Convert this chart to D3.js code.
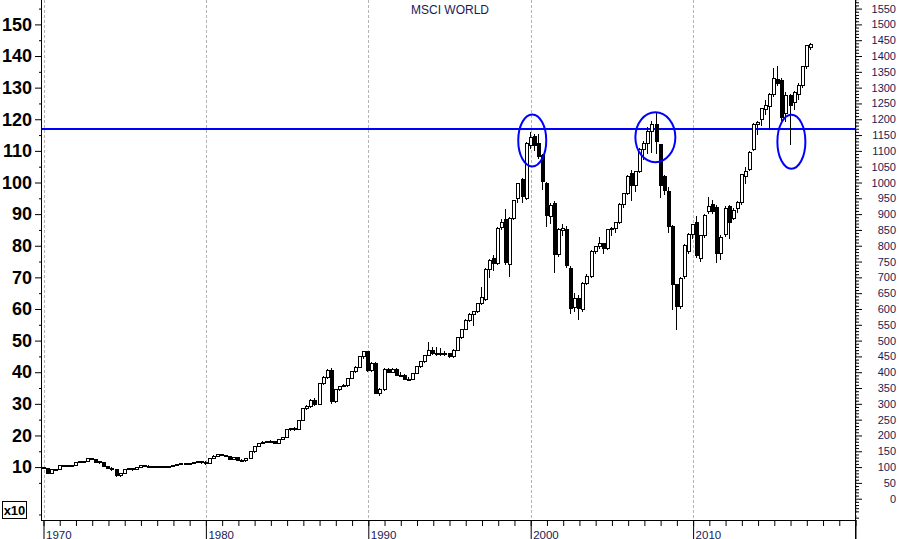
<!DOCTYPE html>
<html><head><meta charset="utf-8">
<script src="https://cdn.jsdelivr.net/npm/d3@7"></script>
<style>
body{margin:0;background:#fff;}
svg{display:block;font-family:Arial,"Liberation Sans",sans-serif;}
</style>
</head><body>
<svg id="chart" width="899" height="539"></svg>
<script>
// ---------- DATA ----------
const title = "MSCI WORLD";
const firstQuarter = "1970-01-01";   // quarterly candles start here
const open = [98,94,81,91,93,104,105,103,104,115,117,117,128,124,117,114,101,97,91,72,79,92,96,91,99,104,103,102,103,101,102,100,103,105,108,112,109,112,114,117,115,112,126,135,139,136,134,124,129,122,121,128,148,164,175,179,182,180,176,187,193,218,222,219,247,286,291,312,297,364,384,406,307,344,356,358,381,402,416,449,465,407,428,333,345,409,400,409,391,389,378,378,396,417,433,454,468,458,458,460,459,449,470,510,536,565,584,592,618,631,725,760,744,857,883,740,887,948,1010,950,1118,1145,1124,1084,997,892,934,771,847,850,728,605,634,597,681,702,781,797,806,792,850,855,873,931,966,1027,989,1034,1105,1124,1161,1182,1119,1020,971,860,676,609,702,781,834,873,760,831,908,932,921,776,834,924,887,918,936,1018,1042,1105,1184,1198,1232,1240,1277,1326,1324,1219,1275,1252,1277,1308,1366,1428];
const high = [100,96,92,95,105,107,106,106,116,119,119,129,130,126,120,116,103,99,93,82,93,98,97,100,105,106,105,104,104,103,103,104,106,109,113,113,113,115,118,118,120,127,137,142,141,139,136,131,130,125,129,149,165,176,181,183,186,182,189,195,219,224,226,248,287,296,314,318,366,388,410,412,346,358,364,383,404,420,452,468,468,432,431,350,412,414,413,412,400,393,384,398,419,436,456,495,480,480,478,466,462,472,512,538,567,586,595,620,668,730,757,772,858,885,915,890,946,1000,1015,1128,1161,1153,1152,1090,1002,935,940,856,870,862,735,650,645,685,710,785,800,828,810,853,860,876,934,968,1025,1040,1036,1108,1130,1175,1195,1219,1122,1025,985,865,680,700,805,840,870,894,835,900,955,945,930,835,925,930,920,940,1026,1050,1100,1188,1195,1236,1262,1282,1361,1368,1330,1285,1280,1290,1315,1370,1436,1440];
const low = [96,79,79,89,92,102,101,101,103,113,114,116,122,114,111,100,95,89,70,68,77,90,88,90,98,101,100,99,99,99,98,99,100,104,107,106,108,110,113,111,108,111,125,133,134,133,122,122,120,118,117,127,146,162,172,176,176,172,174,185,192,215,214,217,245,282,288,294,295,360,380,300,303,340,352,354,378,396,412,443,402,401,330,325,342,396,398,389,385,374,372,376,394,414,430,450,455,450,452,450,445,444,468,505,532,560,547,588,612,625,697,720,740,850,740,702,880,935,935,945,1105,1100,1075,976,860,870,713,765,830,730,585,590,565,590,675,698,775,790,773,788,830,840,868,920,962,940,970,1030,1070,1090,1092,1090,950,960,840,596,533,600,695,775,820,760,750,825,900,900,744,755,828,820,880,905,930,995,1035,1100,1150,1180,1215,1166,1270,1305,1195,1190,1119,1230,1260,1300,1360,1419];
const close = [97,81,91,93,104,105,103,104,115,117,117,128,125,116,113,101,97,91,72,79,92,96,91,99,104,103,102,103,101,102,100,103,105,108,112,109,112,114,117,115,112,126,135,139,136,134,124,129,122,121,128,148,164,175,179,182,180,176,187,193,218,222,219,247,286,291,312,297,364,384,406,307,344,356,358,381,402,416,449,465,407,428,333,345,409,400,409,391,389,378,378,396,417,433,454,468,458,458,460,459,449,470,510,536,565,584,592,618,637,725,752,744,855,873,746,887,943,997,955,1124,1143,1118,1082,1003,897,926,771,850,855,739,602,634,602,681,702,781,797,806,792,850,855,873,931,966,1020,989,1034,1105,1124,1161,1182,1129,992,976,860,676,607,697,802,834,866,770,831,897,924,908,776,827,918,873,913,936,1024,1034,1094,1184,1189,1234,1244,1277,1329,1314,1206,1275,1245,1284,1308,1366,1432,1437];

const leftTickLabels = [10,20,30,40,50,60,70,80,90,100,110,120,130,140,150]; // shown "x10"
const rightTickLabels = d3.range(0, 1551, 50);
const decadeLabels = [1970,1980,1990,2000,2010];
const resistanceLevel = 1170;
const circledDates = ["2000-02-05","2007-09-05","2016-01-20"];
const circledValues = [1133,1143,1129];
const circledRx = [14,20,14];
const circledRy = [26,25,27];

// ---------- CHART ----------
const svg = d3.select("#chart");
const W = 899, H = 539;
const plotLeft = 42, plotRight = 855, axisY = 520;

const x = d3.scaleTime()
  .domain([new Date(1970,0,1), new Date(2020,0,1)])
  .range([43.5, 855.5]);
const y = d3.scaleLinear().domain([0,1550]).range([498.7, 498.7 - 0.3162*1550]);

const start = d3.timeParse("%Y-%m-%d")(firstQuarter);
const quarters = open.map((_, i) => d3.timeMonth.offset(start, 3*i));
const candles = quarters.map((d,i) => ({date:d, o:open[i], h:high[i], l:low[i], c:close[i]}));

// gridlines (decades)
const gridYears = [1970,1980,1990,2000,2010,2020];
svg.append("g").selectAll("line").data(gridYears).join("line")
  .attr("x1", d => Math.round(x(new Date(d,0,1))) + 0.5)
  .attr("x2", d => Math.round(x(new Date(d,0,1))) + 0.5)
  .attr("y1", 0).attr("y2", axisY)
  .attr("stroke", "#b4b4b4").attr("stroke-dasharray", "3,2").attr("stroke-width", 1);

// title
svg.append("text").attr("x", 450).attr("y", 14).attr("text-anchor","middle")
  .attr("font-size", 12).attr("fill", "#1a1a55").text(title);

// resistance line
svg.append("line")
  .attr("x1", plotLeft).attr("x2", plotRight)
  .attr("y1", Math.round(y(resistanceLevel))).attr("y2", Math.round(y(resistanceLevel)))
  .attr("stroke", "#0000ff").attr("stroke-width", 2);

// candles
const cg = svg.append("g").attr("shape-rendering","crispEdges");
const cx = d => Math.round(x(d.date));
cg.selectAll("line.wick").data(candles).join("line").attr("class","wick")
  .attr("x1", d => cx(d) - 0.5).attr("x2", d => cx(d) - 0.5)
  .attr("y1", d => y(d.h)).attr("y2", d => y(d.l))
  .attr("stroke", "#000").attr("stroke-width", 1);
cg.selectAll("rect.body").data(candles).join("rect").attr("class","body")
  .attr("x", d => cx(d) - 1.5)
  .attr("width", 3)
  .attr("y", d => Math.min(y(d.o), y(d.c)))
  .attr("height", d => Math.max(1, Math.abs(y(d.o) - y(d.c))))
  .attr("fill", d => d.c >= d.o ? "#fff" : "#000")
  .attr("stroke", "#000").attr("stroke-width", 1);

// ellipses
svg.append("g").selectAll("ellipse").data(circledDates).join("ellipse")
  .attr("cx", (d,i) => x(d3.timeParse("%Y-%m-%d")(d)))
  .attr("cy", (d,i) => y(circledValues[i]))
  .attr("rx", (d,i) => circledRx[i]).attr("ry", (d,i) => circledRy[i])
  .attr("fill","none").attr("stroke","#0000ff").attr("stroke-width",2);

// left axis
const la = svg.append("g").attr("transform", `translate(${plotLeft},0)`);
la.call(d3.axisLeft(y).tickValues(leftTickLabels.map(v => v*10)).tickSize(7).tickPadding(3)
  .tickFormat(d => d/10));
la.select(".domain").remove();
la.selectAll(".tick line").attr("stroke","#000");
la.selectAll(".tick text").attr("font-size", 18).attr("font-weight","bold")
  .attr("fill","#000").attr("font-family","Arial, 'Liberation Sans', sans-serif");
const laMinor = svg.append("g").attr("transform", `translate(${plotLeft},0)`);
laMinor.call(d3.axisLeft(y).tickValues(d3.range(-50, 1551, 100)).tickSize(3).tickFormat(""));
laMinor.select(".domain").remove();
laMinor.selectAll(".tick line").attr("stroke","#000");
svg.append("line").attr("x1", plotLeft-0.5).attr("x2", plotLeft-0.5).attr("y1",0).attr("y2",axisY)
  .attr("stroke","#000");

// right axis
const ra = svg.append("g").attr("transform", `translate(${plotRight},0)`);
ra.call(d3.axisRight(y).tickValues(rightTickLabels).tickSize(7).tickPadding(0).tickFormat(d3.format("d")));
ra.select(".domain").remove();
ra.selectAll(".tick line").attr("stroke","#000");
ra.selectAll(".tick text").attr("x", 41).attr("text-anchor","end").attr("font-size", 11)
  .attr("fill","#1a1a55").attr("font-family","Arial, 'Liberation Sans', sans-serif");
const raMinor = svg.append("g").attr("transform", `translate(${plotRight},0)`);
raMinor.call(d3.axisRight(y).tickValues(d3.range(-60, 1581, 10).filter(v => v % 50 !== 0)).tickSize(4).tickFormat(""));
raMinor.select(".domain").remove();
raMinor.selectAll(".tick line").attr("stroke","#000");
svg.append("line").attr("x1", plotRight+0.5).attr("x2", plotRight+0.5).attr("y1",0).attr("y2",H)
  .attr("stroke","#000");

// bottom axis
svg.append("line").attr("x1", plotLeft-1).attr("x2", plotRight+1).attr("y1", axisY+0.5).attr("y2", axisY+0.5)
  .attr("stroke","#000");
const years = d3.timeYear.range(new Date(1970,0,1), new Date(2020,0,2));
const ba = svg.append("g").attr("transform", `translate(0,${axisY})`);
ba.call(d3.axisBottom(x).tickValues(years).tickSize(6).tickFormat(""));
ba.select(".domain").remove();
ba.selectAll(".tick line").attr("stroke","#000");
const baMajor = svg.append("g").attr("transform", `translate(0,${axisY})`);
baMajor.call(d3.axisBottom(x).tickValues(gridYears.map(yy => new Date(yy,0,1))).tickSize(20).tickFormat(""));
baMajor.select(".domain").remove();
baMajor.selectAll(".tick line").attr("stroke","#000");
svg.append("g").selectAll("text").data(decadeLabels).join("text")
  .attr("x", d => x(new Date(d,0,1)) + 2.5).attr("y", 538.5)
  .attr("font-size", 11.5).attr("fill","#1a1a55").text(d => d);

// x10 box
svg.append("rect").attr("x",2.5).attr("y",501.5).attr("width",24).attr("height",17)
  .attr("fill","#fff").attr("stroke","#000");
svg.append("text").attr("x",14.5).attr("y",515).attr("text-anchor","middle")
  .attr("font-size",13).attr("font-weight","bold").attr("fill","#000").text("x10");
</script>
</body></html>
